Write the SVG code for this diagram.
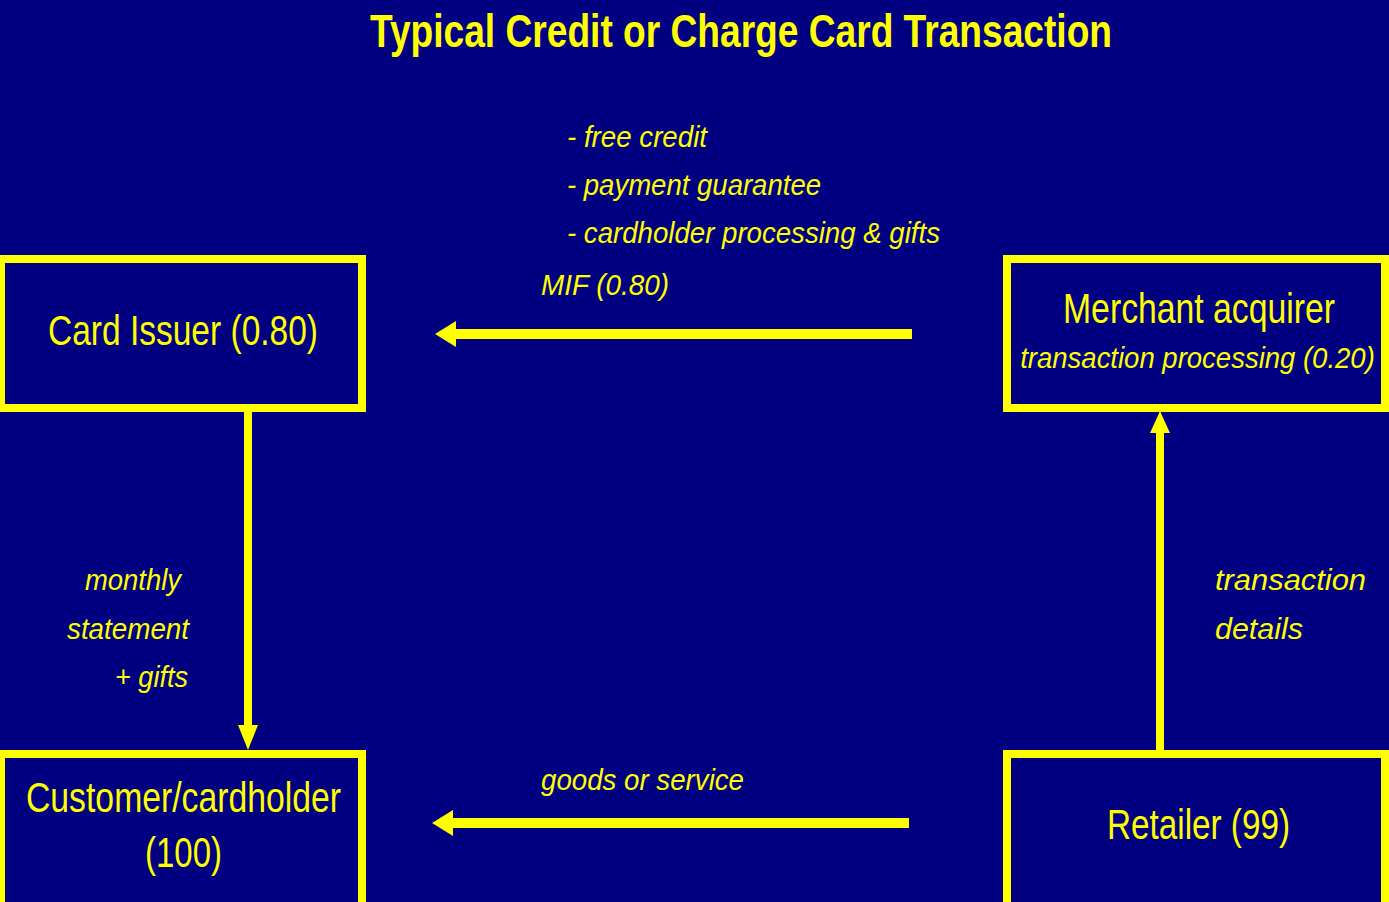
<svg xmlns="http://www.w3.org/2000/svg" width="1389" height="902" viewBox="0 0 1389 902">
  <style>
    .box { fill: #000080; stroke: #ffff00; stroke-width: 8; }
    .lbl { fill: #ffff00; font-family: "Liberation Sans", Arial, sans-serif; }
    .mid { text-anchor: middle; }
    .node { font-size: 42px; }
    .note { font-size: 30px; font-style: italic; }
    .title { font-size: 47px; font-weight: bold; }
    .shaft { stroke: #ffff00; fill: none; }
    .head { fill: #ffff00; }
  </style>

  <rect x="0" y="0" width="1389" height="902" fill="#000080"/>

  <text class="lbl title" x="370" y="47" textLength="742" lengthAdjust="spacingAndGlyphs">Typical Credit or Charge Card Transaction</text>

  <!-- connectors -->
  <g id="connectors">
    <!-- MIF flow: acquirer to issuer -->
    <line class="shaft" x1="912" y1="334" x2="454" y2="334" stroke-width="10"/>
    <polygon class="head" points="435,334 456,321 456,347"/>
    <!-- goods flow: retailer to customer -->
    <line class="shaft" x1="909" y1="823" x2="451" y2="823" stroke-width="10"/>
    <polygon class="head" points="432,823 453,810 453,836"/>
    <!-- statement: issuer to customer -->
    <line class="shaft" x1="248" y1="411" x2="248" y2="728" stroke-width="8"/>
    <polygon class="head" points="248,750 238,725 258,725"/>
    <!-- transaction details: retailer to acquirer -->
    <line class="shaft" x1="1160" y1="750" x2="1160" y2="430" stroke-width="8"/>
    <polygon class="head" points="1160,411 1150,433 1170,433"/>
  </g>

  <!-- connector labels -->
  <g id="labels">
    <text class="lbl note" x="567" y="147" textLength="140" lengthAdjust="spacingAndGlyphs">- free credit</text>
    <text class="lbl note" x="567" y="195" textLength="254" lengthAdjust="spacingAndGlyphs">- payment guarantee</text>
    <text class="lbl note" x="567" y="243" textLength="373" lengthAdjust="spacingAndGlyphs">- cardholder processing &amp; gifts</text>
    <text class="lbl note" x="541" y="295" textLength="128" lengthAdjust="spacingAndGlyphs">MIF (0.80)</text>
    <text class="lbl note" x="85" y="590" textLength="96" lengthAdjust="spacingAndGlyphs">monthly</text>
    <text class="lbl note" x="67" y="639" textLength="122" lengthAdjust="spacingAndGlyphs">statement</text>
    <text class="lbl note" x="115" y="687" textLength="73" lengthAdjust="spacingAndGlyphs">+ gifts</text>
    <text class="lbl note" x="1215" y="590" textLength="151" lengthAdjust="spacingAndGlyphs">transaction</text>
    <text class="lbl note" x="1215" y="639" textLength="88" lengthAdjust="spacingAndGlyphs">details</text>
    <text class="lbl note" x="541" y="790" textLength="203" lengthAdjust="spacingAndGlyphs">goods or service</text>
  </g>

  <g id="card-issuer">
    <rect class="box" x="1" y="259" width="361" height="149"/>
    <text class="lbl node" x="48" y="345" textLength="270" lengthAdjust="spacingAndGlyphs">Card Issuer (0.80)</text>
  </g>

  <g id="merchant-acquirer">
    <rect class="box" x="1007" y="259" width="378" height="149"/>
    <!-- narrow face: horizontal squeeze keeps both lines inside the frame -->
    <text class="lbl node mid" transform="translate(1199,323) scale(0.8,1)" x="0" y="0" textLength="340" lengthAdjust="spacingAndGlyphs">Merchant acquirer</text>
    <text class="lbl note mid" transform="translate(1197.5,368) scale(0.9,1)" x="0" y="0" textLength="394" lengthAdjust="spacingAndGlyphs">transaction processing (0.20)</text>
  </g>

  <g id="customer">
    <rect class="box" x="1" y="754" width="361" height="152"/>
    <text class="lbl node" x="26" y="812" textLength="315" lengthAdjust="spacingAndGlyphs">Customer/cardholder</text>
    <text class="lbl node" x="145" y="867" textLength="77" lengthAdjust="spacingAndGlyphs">(100)</text>
  </g>

  <g id="retailer">
    <rect class="box" x="1007" y="754" width="378" height="152"/>
    <text class="lbl node" x="1107" y="839" textLength="183" lengthAdjust="spacingAndGlyphs">Retailer (99)</text>
  </g>
</svg>
